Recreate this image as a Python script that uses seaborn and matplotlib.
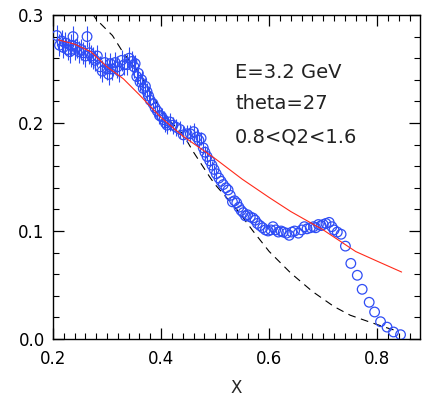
import matplotlib
matplotlib.use("Agg")
import matplotlib.pyplot as plt
import seaborn as sns
import numpy as np
import pandas as pd
from matplotlib.ticker import MultipleLocator

# ---- data ----
data_x = [0.207, 0.212, 0.216, 0.219, 0.223, 0.227, 0.231, 0.234, 0.237, 0.240,
          0.244, 0.248, 0.252, 0.256, 0.260, 0.263, 0.267, 0.271, 0.274, 0.278,
          0.282, 0.287, 0.291, 0.296, 0.300, 0.303, 0.306, 0.310, 0.315, 0.319,
          0.323, 0.327, 0.332, 0.337, 0.341, 0.346, 0.350, 0.352, 0.355, 0.358,
          0.361, 0.364, 0.367, 0.371, 0.374, 0.377, 0.380, 0.385, 0.389, 0.393,
          0.397, 0.401, 0.405, 0.408, 0.411, 0.416, 0.422, 0.428, 0.435, 0.441,
          0.448, 0.454, 0.460, 0.466, 0.470, 0.474, 0.478, 0.481, 0.485, 0.490,
          0.494, 0.498, 0.502, 0.507, 0.511, 0.515, 0.520, 0.524, 0.528, 0.532,
          0.536, 0.540, 0.544, 0.548, 0.552, 0.556, 0.560, 0.565, 0.570, 0.574,
          0.578, 0.583, 0.588, 0.593, 0.598, 0.603, 0.607, 0.612, 0.617, 0.622,
          0.626, 0.632, 0.637, 0.642, 0.647, 0.654, 0.660, 0.665, 0.670, 0.676,
          0.682, 0.686, 0.691, 0.696, 0.700, 0.705, 0.711, 0.716, 0.720, 0.726,
          0.733, 0.741, 0.751, 0.763, 0.772, 0.785, 0.795, 0.806, 0.818, 0.830,
          0.843]
data_y = [0.281, 0.272, 0.276, 0.270, 0.274, 0.268, 0.266, 0.272, 0.280, 0.268,
          0.270, 0.266, 0.268, 0.265, 0.262, 0.280, 0.265, 0.262, 0.260, 0.258,
          0.262, 0.252, 0.248, 0.256, 0.250, 0.245, 0.255, 0.250, 0.256, 0.252,
          0.248, 0.258, 0.254, 0.254, 0.260, 0.257, 0.252, 0.255, 0.243, 0.246,
          0.238, 0.240, 0.232, 0.234, 0.229, 0.225, 0.221, 0.218, 0.214, 0.211,
          0.207, 0.206, 0.203, 0.200, 0.198, 0.201, 0.198, 0.196, 0.194, 0.189,
          0.190, 0.190, 0.192, 0.187, 0.184, 0.186, 0.177, 0.173, 0.169, 0.165,
          0.161, 0.157, 0.153, 0.149, 0.146, 0.143, 0.140, 0.138, 0.133, 0.127,
          0.128, 0.126, 0.122, 0.119, 0.117, 0.114, 0.115, 0.113, 0.112, 0.110,
          0.107, 0.105, 0.103, 0.101, 0.100, 0.101, 0.104, 0.101, 0.099, 0.100,
          0.099, 0.098, 0.096, 0.099, 0.100, 0.098, 0.101, 0.104, 0.102, 0.103,
          0.104, 0.103, 0.106, 0.105, 0.106, 0.107, 0.108, 0.104, 0.101, 0.099,
          0.097, 0.086, 0.070, 0.059, 0.046, 0.034, 0.025, 0.016, 0.011, 0.0065,
          0.004]
data_err = [0.010] * 37 + [0.008] * 27 + [0.006] * 4 + [0.005] * 2 + [0.004] * 3 + [0.0] * 58

red_x = [0.21, 0.24, 0.27, 0.30, 0.33, 0.36, 0.40, 0.44, 0.50, 0.55,
         0.60, 0.64, 0.70, 0.76, 0.80, 0.845]
red_y = [0.277, 0.273, 0.266, 0.252, 0.241, 0.226, 0.205, 0.188, 0.167, 0.148,
         0.131, 0.118, 0.101, 0.081, 0.072, 0.062]

dash_x = [0.272, 0.28, 0.31, 0.33, 0.36, 0.38, 0.41, 0.44, 0.46, 0.49, 0.50,
          0.54, 0.57, 0.60, 0.64, 0.68, 0.72, 0.75, 0.79, 0.82, 0.84]
dash_y = [0.302, 0.296, 0.281, 0.265, 0.246, 0.228, 0.205, 0.190, 0.173, 0.150, 0.143,
          0.120, 0.100, 0.081, 0.061, 0.044, 0.030, 0.022, 0.015, 0.010, 0.007]

labels = ["E=3.2 GeV", "theta=27", "0.8<Q2<1.6"]

# ---- plot ----
sns.set_style("ticks")
plt.rcParams['font.family'] = ['DejaVu Sans']

fig = plt.figure(figsize=(4.22, 3.98), dpi=100)
ax = fig.add_axes([53/422, 1 - 339/398, (420 - 53)/422, (339 - 15)/398])

df = pd.DataFrame({"x": data_x, "y": data_y, "err": data_err})
blue = "#2f4df5"
eb = df[df["err"] > 0]
ax.errorbar(eb["x"], eb["y"], yerr=eb["err"], fmt="none", ecolor=blue,
            elinewidth=0.8, capsize=0, zorder=2)
sns.scatterplot(data=df, x="x", y="y", ax=ax, marker="o", s=48,
                facecolor="none", edgecolor=blue, linewidth=0.9, zorder=3)

sns.lineplot(x=red_x, y=red_y, ax=ax, color="#ff2a1a", linewidth=0.8, zorder=4)
sns.lineplot(x=dash_x, y=dash_y, ax=ax, color="black", linewidth=0.8,
             linestyle=(0, (7, 5)), zorder=1)

ax.set_xlim(0.2, 0.879)
ax.set_ylim(0.0, 0.3)
ax.xaxis.set_major_locator(MultipleLocator(0.2))
ax.xaxis.set_minor_locator(MultipleLocator(0.02))
ax.yaxis.set_major_locator(MultipleLocator(0.1))
ax.yaxis.set_minor_locator(MultipleLocator(0.02))
ax.xaxis.set_major_formatter(matplotlib.ticker.FormatStrFormatter("%.1f"))
ax.yaxis.set_major_formatter(matplotlib.ticker.FormatStrFormatter("%.1f"))
ax.tick_params(which="both", direction="in", top=True, right=True, colors="black",
               labelsize=12)
ax.tick_params(axis="x", which="major", pad=8)
ax.tick_params(axis="y", which="major", pad=6)
ax.tick_params(which="major", length=8, width=0.9)
ax.tick_params(which="minor", length=4, width=0.8)
for s in ax.spines.values():
    s.set_linewidth(1.0)
    s.set_color("black")

ax.set_xlabel("X", fontsize=12, va="center")
ax.xaxis.set_label_coords(0.5, -(388 - 339) / 324)
ax.set_ylabel("")

ys = [0.247, 0.218, 0.187]
for t, yy in zip(labels, ys):
    ax.text(0.537, yy, t, fontsize=14, color="#222222", va="center", ha="left")

fig.savefig("out.png", dpi=100)
